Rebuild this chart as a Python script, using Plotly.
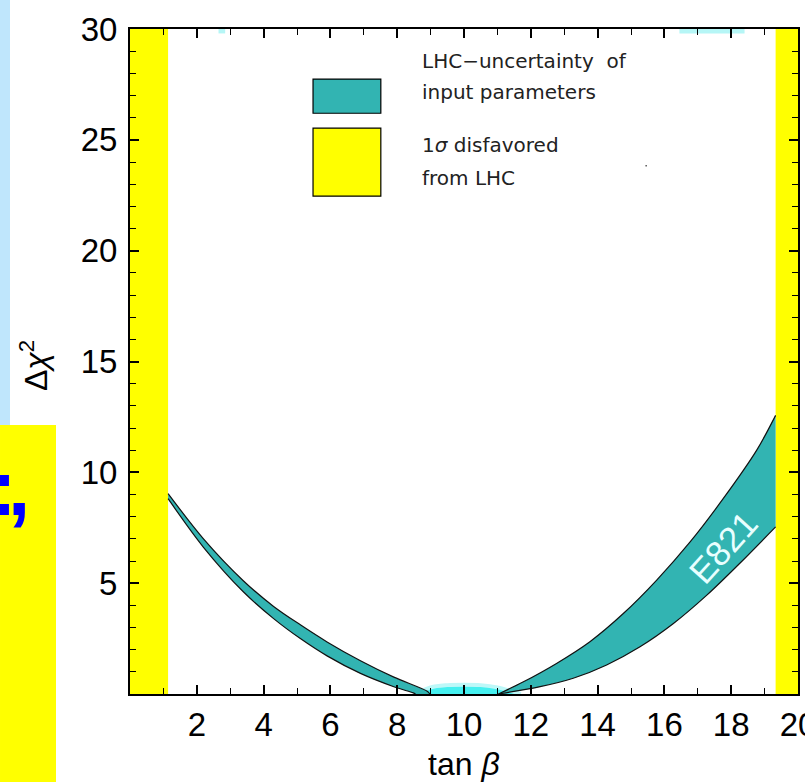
import plotly.graph_objects as go

# ---- data ----
left_upper_x = [1.14, 2.2, 3.4, 4.3, 5.1, 5.9, 6.9, 7.9, 8.9, 8.98]
left_upper_y = [9.04, 7.0, 5.1, 3.95, 3.12, 2.35, 1.5, 0.76, 0.12, 0.0]
left_lower_x = [1.14, 2.2, 3.4, 4.3, 5.1, 5.9, 6.9, 7.9, 8.48, 8.55]
left_lower_y = [8.81, 6.62, 4.6, 3.4, 2.5, 1.72, 0.93, 0.33, 0.05, 0.0]

right_upper_x = [11.03, 11.78, 12.77, 13.77, 14.77, 15.77, 16.77, 17.76, 18.76, 19.33]
right_upper_y = [0.0, 0.55, 1.38, 2.36, 3.63, 5.14, 6.86, 8.81, 10.99, 12.57]
right_lower_x = [11.03, 12.28, 13.27, 14.27, 15.27, 16.27, 17.27, 18.26, 19.33]
right_lower_y = [0.0, 0.33, 0.71, 1.31, 2.13, 3.18, 4.46, 5.9, 7.54]

glow_x = [8.55, 9.0, 9.5, 10.0, 10.5, 11.0, 11.7]
glow_top = [0.0, 0.3, 0.4, 0.42, 0.4, 0.3, 0.0]

excluded_low = [0.0, 1.14]      # 1 sigma disfavored from LHC
excluded_high = [19.33, 20.0]

x_ticks = [2, 4, 6, 8, 10, 12, 14, 16, 18, 20]
y_ticks = [5, 10, 15, 20, 25, 30]

TEAL = "#32b4b2"
YELLOW = "#ffff00"
FONT = "Liberation Sans"

fig = go.Figure()

# yellow excluded bands
for lo, hi in (excluded_low, excluded_high):
    fig.add_trace(go.Scatter(x=[lo, hi, hi, lo, lo], y=[0, 0, 30, 30, 0], fill="toself",
                             fillcolor=YELLOW, line=dict(width=0), mode="lines",
                             hoverinfo="skip", showlegend=False))

# cyan glow at the minimum
fig.add_trace(go.Scatter(x=glow_x, y=[0] * len(glow_x), mode="lines", line=dict(width=0),
                         hoverinfo="skip", showlegend=False))
fig.add_trace(go.Scatter(x=glow_x, y=glow_top, fill="tonexty", fillcolor="#45f0f0",
                         line=dict(width=4, color="#bdf8f8", shape="spline"), mode="lines",
                         hoverinfo="skip", showlegend=False))

# faint cyan marks at the top edge
for xs in ([2.65, 2.85], [16.45, 18.4]):
    fig.add_trace(go.Scatter(x=[xs[0], xs[1], xs[1], xs[0], xs[0]], y=[29.8, 29.8, 30, 30, 29.8],
                             fill="toself", fillcolor="#b6f6f6", line=dict(width=0), mode="lines",
                             hoverinfo="skip", showlegend=False))

# teal uncertainty band (lower edge, then upper edge filled to it)
edge = dict(width=1.2, color="#111", shape="spline", smoothing=0.9)
for lx, ly, ux, uy in ((left_lower_x, left_lower_y, left_upper_x, left_upper_y),
                       (right_lower_x, right_lower_y, right_upper_x, right_upper_y)):
    fig.add_trace(go.Scatter(x=lx, y=ly, mode="lines", line=edge,
                             hoverinfo="skip", showlegend=False))
    fig.add_trace(go.Scatter(x=ux, y=uy, mode="lines", line=edge, fill="tonexty",
                             fillcolor=TEAL, hoverinfo="skip", showlegend=False))

# legend boxes
fig.add_shape(type="rect", x0=5.48, x1=7.51, y0=26.2, y1=27.74, xref="x", yref="y",
              fillcolor=TEAL, line=dict(color="black", width=1.2))
fig.add_shape(type="rect", x0=5.48, x1=7.51, y0=22.46, y1=25.53, xref="x", yref="y",
              fillcolor=YELLOW, line=dict(color="black", width=1.2))

leg_font = dict(family="DejaVu Sans", size=20, color="#222")
for txt, yv in (("LHC−uncertainty  of", 28.55), ("input parameters", 27.15),
                ("1<i>σ</i> disfavored", 24.75), ("from LHC", 23.3)):
    fig.add_annotation(x=8.68, y=yv, xref="x", yref="y", text=txt, showarrow=False,
                       xanchor="left", yanchor="middle", font=leg_font)

fig.add_shape(type="rect", x0=15.43, x1=15.48, y0=23.8, y1=23.86, xref="x", yref="y",
              fillcolor="#555", line=dict(width=0))

# E821 label along the band
fig.add_annotation(x=17.75, y=6.62, xref="x", yref="y", text="E821", showarrow=False,
                   textangle=-48, font=dict(family=FONT, size=35, color="#e8ffff"))

# axis titles
fig.add_annotation(x=(464 - 130) / 668, y=(694 - 764) / 665, xref="paper", yref="paper",
                   text="tan <i>β</i>", showarrow=False, xanchor="center", yanchor="middle",
                   font=dict(family=FONT, size=32, color="black"))
fig.add_annotation(x=(34 - 130) / 668, y=(694 - 366) / 665, xref="paper", yref="paper",
                   text="Δ<i>χ</i><sup>2</sup>", showarrow=False, textangle=-90,
                   xanchor="center", yanchor="middle",
                   font=dict(family=FONT, size=32, color="black"))

# slide background fragments at the left edge
fig.add_shape(type="rect", xref="paper", yref="paper", x0=-0.1946, x1=(10 - 130) / 668,
              y0=(694 - 425) / 665, y1=(694 - 0) / 665, fillcolor="#bfe6fc",
              line=dict(width=0), layer="below")
fig.add_shape(type="rect", xref="paper", yref="paper", x0=-0.1946, x1=(56 - 130) / 668,
              y0=(694 - 782) / 665, y1=(694 - 425) / 665, fillcolor=YELLOW,
              line=dict(width=0), layer="below")
for ch, px in ((":", 3), (",", 19)):
    fig.add_annotation(x=(px - 130) / 668, y=(694 - 487) / 665, xref="paper", yref="paper",
                       text="<b>" + ch + "</b>", showarrow=False, xanchor="center",
                       yanchor="middle", font=dict(family=FONT, size=80, color="#0000ff"))

axis_common = dict(showline=True, linecolor="black", linewidth=2, mirror="ticks",
                   ticks="inside", ticklen=9, tickwidth=1.5, tickcolor="black",
                   showgrid=False, zeroline=False, ticklabeloverflow="allow",
                   automargin=False,
                   tickfont=dict(family=FONT, size=33, color="black"))

fig.update_xaxes(range=[0, 20], tickmode="array", tickvals=x_ticks,
                 minor=dict(dtick=1, tick0=0, ticks="inside", ticklen=6, tickcolor="black", tickwidth=1.2),
                 **axis_common)
fig.update_yaxes(range=[0, 30], tickmode="array", tickvals=y_ticks, ticklabelstandoff=4,
                 minor=dict(dtick=1, tick0=0, ticks="inside", ticklen=6, tickcolor="black", tickwidth=1.2),
                 **axis_common)

fig.update_layout(width=805, height=782, margin=dict(l=130, r=7, t=29, b=88),
                  paper_bgcolor="white", plot_bgcolor="white", showlegend=False)

fig.write_html("out.html")
